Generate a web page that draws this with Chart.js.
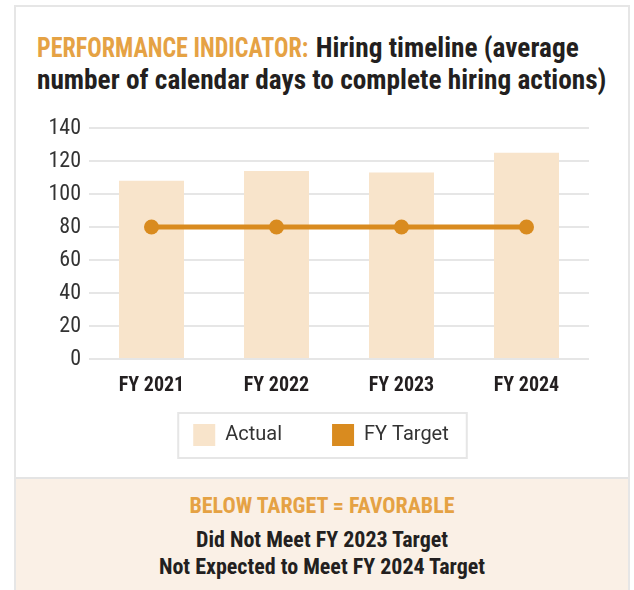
<!DOCTYPE html>
<html>
<head>
<meta charset="utf-8">
<script src="https://cdn.jsdelivr.net/npm/chart.js@4.4.1/dist/chart.umd.min.js"></script>
<style>
  html, body { margin: 0; padding: 0; background: #fff; }
  body { width: 634px; height: 590px; position: relative; overflow: hidden;
         font-family: "Roboto Condensed", "Roboto", sans-serif; }
  #panel { position: absolute; left: 14px; top: 5px; width: 616px; height: 600px;
           border: 2px solid #e6e6e6; box-sizing: border-box; }
  #title { position: absolute; left: 37px; top: 32px; white-space: nowrap; font-weight: bold;
           font-size: 27.3px; line-height: 32px; color: #231f20; }
  #title .hl { color: #e5a244; display: inline-block; transform: scaleX(0.88); transform-origin: 0 50%; margin-right: -36px; }
  #foot { position: absolute; left: 16px; top: 477px; width: 612px; height: 120px;
          background: #faf0e6; border-top: 2px solid #e4e4e4; box-sizing: border-box; text-align: center; }
  #foot .a { position: absolute; left: 0; right: 0; top: 14px; font-size: 22px; line-height: 26px; font-weight: bold; color: #e5a244; }
  #foot .b { position: absolute; left: 0; right: 0; top: 47px; font-size: 22px; font-weight: bold; color: #231f20; line-height: 27px; }
  #c { position: absolute; left: 0; top: 0; }
</style>
</head>
<body>
<div id="panel"></div>
<div id="title"><span class="hl">PERFORMANCE INDICATOR:</span> Hiring timeline (average<br>number of calendar days to complete hiring actions)</div>
<div id="foot">
  <div class="a">BELOW TARGET = FAVORABLE</div>
  <div class="b">Did Not Meet FY 2023 Target<br>Not Expected to Meet FY 2024 Target</div>
</div>
<canvas id="c" width="634" height="590"></canvas>
<script>
const categories = ["FY 2021", "FY 2022", "FY 2023", "FY 2024"];
const actualValues = [108, 114, 113, 125];
const targetValues = [80, 80, 80, 80];
const yTicks = [0, 20, 40, 60, 80, 100, 120, 140];

const FONT = '"Roboto Condensed", "Roboto", sans-serif';
const BAR = '#f8e4cb';
const ORANGE = '#d98b1f';

const legendTweak = {
  id: 'legendTweak',
  afterLayout(chart) {
    const lg = chart.legend;
    if (!lg) return;
    const dy = -39;
    const dx = 321 - (lg.left + lg.right) / 2;
    lg.top += dy; lg.bottom += dy;
    lg.left += dx; lg.right += dx;
  },
  afterDraw(chart) {
    const lg = chart.legend;
    if (!lg || !lg.legendHitBoxes || !lg.legendHitBoxes.length) return;
    const hb = lg.legendHitBoxes;
    const l = hb[0].left - 15;
    const r = hb[hb.length - 1].left + hb[hb.length - 1].width + 18;
    const t = hb[0].top - 11;
    const b = hb[0].top + hb[0].height + 12;
    const ctx = chart.ctx;
    ctx.save();
    ctx.strokeStyle = '#e6e6e6';
    ctx.lineWidth = 2;
    ctx.strokeRect(l, t, r - l, b - t);
    ctx.restore();
  }
};

new Chart(document.getElementById('c'), {
  data: {
    labels: categories,
    datasets: [
      { type: 'line', label: 'FY Target', data: targetValues, borderColor: ORANGE, backgroundColor: ORANGE,
        borderWidth: 5, pointRadius: 7.5, pointBackgroundColor: ORANGE, pointBorderWidth: 0, order: 0 },
      { type: 'bar', label: 'Actual', data: actualValues, backgroundColor: BAR, borderWidth: 0,
        categoryPercentage: 1, barPercentage: 0.52, order: 1 }
    ]
  },
  options: {
    responsive: false,
    animation: false,
    layout: { padding: { left: 40, right: 45, top: 128, bottom: 95 } },
    scales: {
      x: {
        grid: { display: false, drawTicks: false },
        border: { display: false },
        ticks: { font: { family: FONT, size: 20, weight: 'bold' }, color: '#231f20', padding: 15 },
        afterFit(s) { s.height = 54; }
      },
      y: {
        min: 0, max: 140,
        afterBuildTicks(s) { s.ticks = yTicks.map(v => ({ value: v })); },
        grid: { color: '#e6e6e6', lineWidth: 2, drawTicks: false },
        border: { display: false },
        ticks: { font: { family: FONT, size: 22 }, color: '#333', padding: 8 },
        afterFit(s) { s.width = 49; }
      }
    },
    plugins: {
      tooltip: { enabled: false },
      legend: {
        position: 'bottom',
        labels: {
          font: { family: '"Roboto", sans-serif', size: 20 },
          color: '#333',
          boxWidth: 22, boxHeight: 22, padding: 50,
          generateLabels(chart) {
            return [
              { text: 'Actual', fillStyle: BAR, strokeStyle: BAR, lineWidth: 0, datasetIndex: 1, fontColor: '#333' },
              { text: 'FY Target', fillStyle: ORANGE, strokeStyle: ORANGE, lineWidth: 0, datasetIndex: 0, fontColor: '#333' }
            ];
          }
        }
      }
    }
  },
  plugins: [legendTweak]
});
</script>
</body>
</html>
